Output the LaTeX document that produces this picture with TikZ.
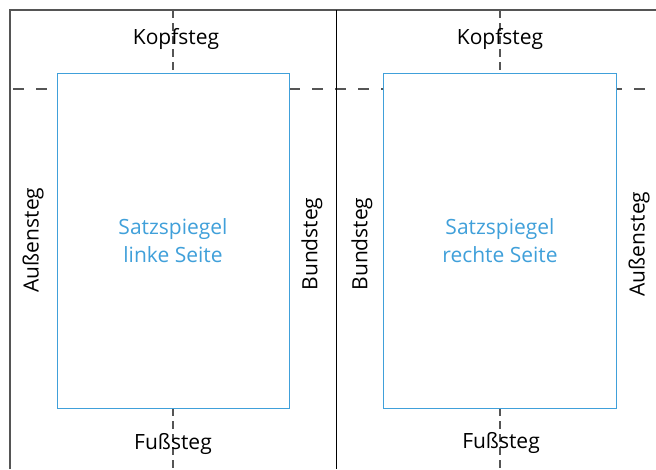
\documentclass[tikz,border=0pt]{standalone}
\usepackage{fontspec}
\setmainfont{Open Sans}
\definecolor{satzblau}{RGB}{64,160,218}
\definecolor{rahmen}{RGB}{85,85,85}
\begin{document}
\begin{tikzpicture}[x=1pt,y=-1pt,
  lbl/.style={font=\fontsize{21}{25}\selectfont, text=black, inner sep=0pt},
  blu/.style={font=\fontsize{21}{25}\selectfont, text=satzblau, inner sep=0pt, anchor=base},
  spiegel/.style={draw=satzblau, line width=1pt, fill=white},
  hdash/.style={draw=rahmen, line width=1.2pt, dash pattern=on 11pt off 12pt, dash phase=-3pt},
  vdash/.style={draw=rahmen, line width=1.2pt, dash pattern=on 8pt off 5pt},
  frame/.style={draw=rahmen, line width=1.6pt},
  mid/.style={draw=black, line width=1pt}]
\useasboundingbox (0,0) rectangle (656,469);
\fill[white] (0,0) rectangle (656,469);
% coordinates
\coordinate (tl) at (10,10);
\coordinate (tr) at (656,10);
\coordinate (bl) at (10,469);
\coordinate (mt) at (336,10);
\coordinate (mb) at (336,469);
\coordinate (hl) at (10,89);
\coordinate (hr) at (656,89);
\coordinate (lt) at (173,10);
\coordinate (lm) at (173,73);
\coordinate (ln) at (173,408);
\coordinate (lb) at (173,469);
\coordinate (rt) at (500,10);
\coordinate (rm) at (500,73);
\coordinate (rn) at (500,408);
\coordinate (rb) at (500,469);
% dashed guides
\draw[hdash] (hl) -- (hr);
\draw[vdash] (lt) -- (lm);
\draw[vdash] (ln) -- (lb);
\draw[vdash] (rt) -- (rm);
\draw[vdash] (rn) -- (rb);
% frame
\draw[frame] (bl) -- (tl) -- (tr);
\draw[mid] (mt) -- (mb);
% type areas
\node[spiegel, minimum width=232pt, minimum height=335pt, inner sep=0pt] (sl) at (173,240.5) {};
\node[spiegel, minimum width=233pt, minimum height=335pt, inner sep=0pt] (sr) at (499.5,240.5) {};
\node[blu] (tl1) at (173,234) {Satzspiegel};
\node[blu] (tl2) at (173,262) {linke Seite};
\node[blu] (tr1) at (500,234) {Satzspiegel};
\node[blu] (tr2) at (500,262) {rechte Seite};
% labels
\node[lbl, anchor=base] (k1) at (176,44) {Kopfsteg};
\node[lbl, anchor=base] (k2) at (500,44) {Kopfsteg};
\node[lbl, anchor=base] (f1) at (173,449) {Fußsteg};
\node[lbl, anchor=base] (f2) at (501,448) {Fußsteg};
\node[lbl, rotate=90] (a1) at (33,240) {Außensteg};
\node[lbl, rotate=90] (b1) at (312,244) {Bundsteg};
\node[lbl, rotate=90] (b2) at (362,244) {Bundsteg};
\node[lbl, rotate=90] (a2) at (639,244) {Außensteg};
\end{tikzpicture}
\end{document}
